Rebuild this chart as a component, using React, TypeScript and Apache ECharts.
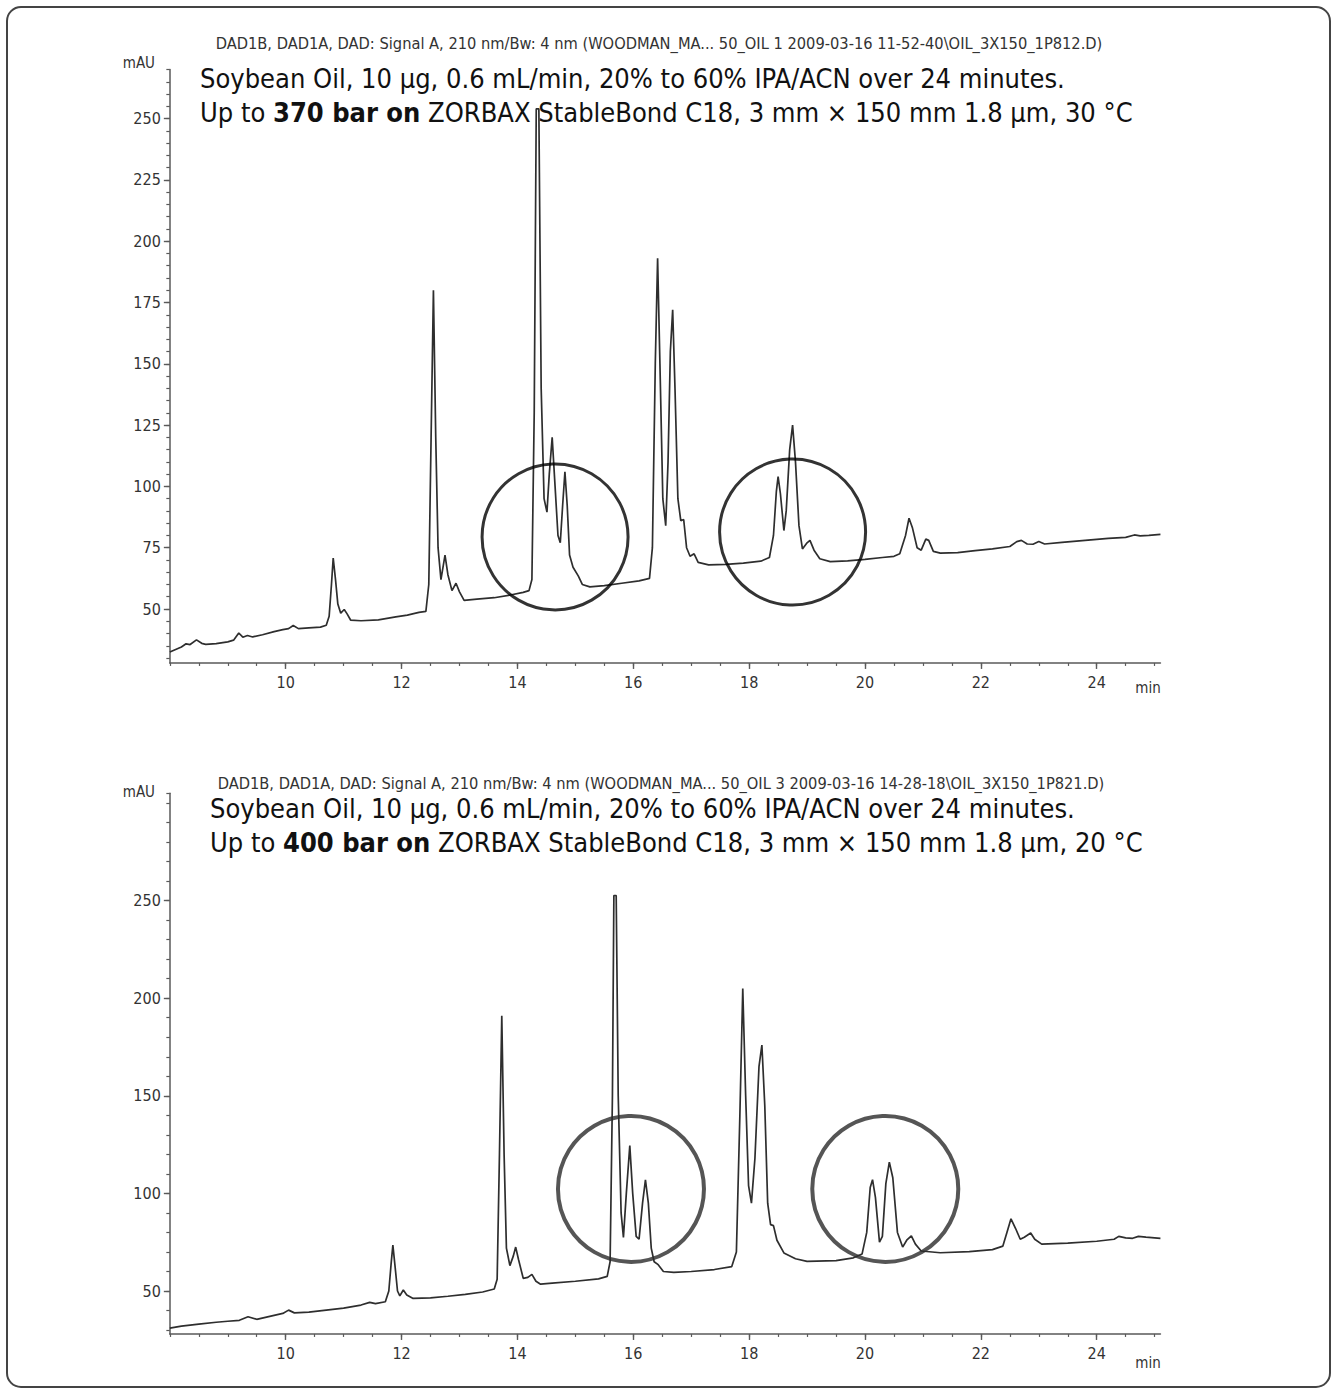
import React, { useEffect, useRef } from "react";
import * as echarts from "echarts";

// ---------- data ----------
const topHeader =
  "DAD1B, DAD1A, DAD: Signal A, 210 nm/Bw: 4 nm (WOODMAN_MA... 50_OIL 1 2009-03-16 11-52-40\\OIL_3X150_1P812.D)";
const bottomHeader =
  "DAD1B, DAD1A, DAD: Signal A, 210 nm/Bw: 4 nm (WOODMAN_MA... 50_OIL 3 2009-03-16 14-28-18\\OIL_3X150_1P821.D)";
const noteLine1 = "Soybean Oil, 10 µg, 0.6 mL/min, 20% to 60% IPA/ACN over 24 minutes.";
const topNoteBold = "370 bar on";
const topNoteRest = " ZORBAX StableBond C18, 3 mm × 150 mm 1.8 µm, 30 °C";
const bottomNoteBold = "400 bar on";
const bottomNoteRest = " ZORBAX StableBond C18, 3 mm × 150 mm 1.8 µm, 20 °C";
const yUnit = "mAU";
const xUnit = "min";

// chromatogram 1 (370 bar, 30 °C): [time min, mAU]
const topTrace: number[][] = [
  [8.0, 32.5], [8.1, 33.5], [8.2, 34.5], [8.28, 35.8], [8.35, 35.5], [8.46, 37.4], [8.55, 36], [8.62, 35.6],
  [8.8, 35.9], [9.0, 36.6], [9.1, 37.3], [9.19, 40.2], [9.26, 38.5], [9.34, 39.2], [9.43, 38.6], [9.6, 39.5],
  [9.8, 40.8], [9.95, 41.6], [10.05, 42], [10.13, 43.3], [10.22, 42.0], [10.4, 42.3], [10.6, 42.6], [10.7, 43.4],
  [10.75, 47], [10.79, 60], [10.82, 70.8], [10.86, 62], [10.9, 52], [10.95, 48.3], [11.01, 49.8], [11.06, 48],
  [11.12, 45.5], [11.3, 45.2], [11.6, 45.6], [11.9, 46.8], [12.1, 47.5], [12.3, 48.6], [12.42, 49], [12.47, 60],
  [12.51, 120], [12.55, 180], [12.59, 120], [12.63, 75], [12.68, 62], [12.75, 72], [12.8, 64], [12.87, 57.5],
  [12.94, 60.5], [13.0, 57], [13.08, 53.5], [13.3, 54], [13.6, 54.6], [13.9, 55.8], [14.1, 56.8], [14.2, 57.5],
  [14.25, 62], [14.29, 130], [14.325, 254], [14.37, 254], [14.41, 140], [14.46, 95], [14.51, 89.5], [14.55, 105],
  [14.6, 120], [14.65, 100], [14.7, 80], [14.74, 77], [14.78, 92], [14.82, 106], [14.86, 92], [14.9, 72],
  [14.96, 67], [15.05, 63.5], [15.12, 60], [15.25, 59], [15.5, 59.5], [15.8, 60.5], [16.1, 61.5], [16.28, 62.5],
  [16.33, 75], [16.38, 150], [16.42, 193], [16.46, 150], [16.51, 95], [16.56, 84], [16.6, 110], [16.64, 155],
  [16.68, 172], [16.72, 140], [16.77, 95], [16.82, 86], [16.87, 86.5], [16.92, 75], [16.98, 71.5], [17.05, 72.5],
  [17.12, 69], [17.3, 68], [17.6, 68.2], [17.9, 68.7], [18.2, 69.5], [18.35, 71], [18.42, 80], [18.47, 98],
  [18.5, 104], [18.54, 97], [18.6, 82], [18.64, 90], [18.7, 115], [18.75, 125], [18.8, 110], [18.86, 84],
  [18.92, 74.5], [19.0, 77], [19.05, 78], [19.12, 74], [19.22, 70.5], [19.4, 69.3], [19.7, 69.6], [20.0, 70.2],
  [20.3, 71], [20.5, 71.5], [20.6, 72.5], [20.7, 80], [20.76, 87], [20.82, 83], [20.9, 75], [20.97, 74],
  [21.05, 78.5], [21.1, 78], [21.18, 73.5], [21.3, 72.8], [21.6, 73], [21.9, 73.8], [22.2, 74.5], [22.5, 75.5],
  [22.62, 77.5], [22.7, 78], [22.8, 76.5], [22.9, 76.4], [23.0, 77.5], [23.1, 76.5], [23.4, 77.2], [23.8, 78],
  [24.2, 78.8], [24.5, 79.2], [24.65, 80.2], [24.75, 79.8], [24.9, 80], [25.1, 80.4],
];

// chromatogram 2 (400 bar, 20 °C): [time min, mAU]
const bottomTrace: number[][] = [
  [8.0, 31], [8.2, 32], [8.5, 33], [8.8, 34], [9.0, 34.5], [9.2, 35], [9.35, 36.8], [9.5, 35.5], [9.8, 37.5],
  [9.95, 38.5], [10.05, 40.2], [10.15, 38.8], [10.4, 39.2], [10.7, 40.2], [11.0, 41.2], [11.3, 42.8], [11.45, 44.2],
  [11.55, 43.5], [11.72, 44.5], [11.78, 50], [11.82, 64], [11.85, 73.5], [11.89, 62], [11.93, 50], [11.97, 47.5],
  [12.03, 50.5], [12.09, 48], [12.2, 46.2], [12.5, 46.5], [12.8, 47.3], [13.1, 48.3], [13.4, 49.5], [13.6, 51],
  [13.65, 56], [13.69, 120], [13.73, 191], [13.77, 120], [13.81, 72], [13.87, 63], [13.93, 68], [13.97, 72.5],
  [14.02, 66], [14.1, 56.5], [14.18, 57], [14.25, 58.5], [14.32, 55], [14.4, 53.5], [14.6, 54], [15.0, 55],
  [15.4, 56.2], [15.55, 57.5], [15.6, 65], [15.64, 150], [15.665, 252.6], [15.705, 252.6], [15.74, 150],
  [15.79, 90], [15.83, 77.5], [15.88, 100], [15.94, 124.5], [15.99, 100], [16.05, 78], [16.1, 76.5], [16.16, 95],
  [16.21, 107], [16.26, 95], [16.31, 72], [16.36, 65], [16.43, 63.5], [16.52, 60], [16.7, 59.5], [17.0, 60],
  [17.4, 61], [17.7, 62.5], [17.78, 70], [17.84, 140], [17.89, 205], [17.94, 150], [17.99, 104], [18.04, 95],
  [18.1, 118], [18.17, 165], [18.22, 176], [18.27, 145], [18.32, 95], [18.37, 84], [18.42, 83.5], [18.48, 76],
  [18.6, 69.5], [18.8, 66.5], [19.0, 65.2], [19.5, 65.6], [19.8, 67], [19.95, 69], [20.03, 80], [20.09, 103],
  [20.13, 107], [20.18, 98], [20.25, 75], [20.3, 78], [20.36, 105], [20.42, 116], [20.48, 108], [20.56, 80],
  [20.65, 72.5], [20.72, 76], [20.8, 78.2], [20.87, 74], [20.97, 70.5], [21.3, 69.6], [21.8, 70.2], [22.2, 71.2],
  [22.38, 73], [22.45, 80], [22.52, 87], [22.6, 82], [22.68, 76.5], [22.75, 77.5], [22.86, 79.7], [22.93, 76.5],
  [23.05, 74], [23.5, 74.5], [24.0, 75.5], [24.3, 76.5], [24.38, 78], [24.5, 77.2], [24.62, 77], [24.72, 78],
  [24.85, 77.6], [25.1, 77],
];

// highlighted regions (circle centres in [min, mAU])
const topCircles: number[][] = [[14.65, 79.4], [18.75, 81.4]];
const bottomCircles: number[][] = [[15.96, 102.3], [20.35, 102.3]];

// axis settings
const xMin = 8;
const xMax = 25.1;
const xMinorEnd = 25;
const xMajorStart = 10;
const xMajorEnd = 24;
const topY = { dataMin: 28, max: 270, minorMin: 30, minorStep: 5, majorMin: 50, majorMax: 250, majorStep: 25 };
const bottomY = { dataMin: 28, max: 305, minorMin: 30, minorStep: 10, majorMin: 50, majorMax: 250, majorStep: 50 };

// ---------- layout ----------
const NARROW = '"Liberation Sans Narrow", "Arial Narrow", "DejaVu Sans Condensed", sans-serif';
const AXIS_COLOR = "#5a5a5a";
const LABEL_COLOR = "#333";

type Panel = {
  x10: number; // pixel of t=10
  pxPerMin: number;
  y50: number; // pixel of 50 mAU
  pxPerUnit: number;
};
const topPanel: Panel = { x10: 285.7, pxPerMin: 57.93, y50: 609, pxPerUnit: 2.452 };
const bottomPanel: Panel = { x10: 285.7, pxPerMin: 57.93, y50: 1291, pxPerUnit: 1.952 };

function buildPanel(p: Panel, yc: any, trace: number[][], circles: number[][], circleColor: string, circleWidth: number, gi: number) {
  const X = (t: number) => p.x10 + (t - 10) * p.pxPerMin;
  const Y = (v: number) => p.y50 - (v - 50) * p.pxPerUnit;
  const rect = (t0: number, t1: number, v0: number, v1: number) => ({
    left: X(t0), width: X(t1) - X(t0), top: Y(v1), height: Y(v0) - Y(v1),
  });
  const grids = [
    rect(xMin, xMax, yc.dataMin, yc.max),
    rect(xMin, xMinorEnd, yc.minorMin, yc.max),
    rect(xMajorStart, xMajorEnd, yc.majorMin, yc.majorMax),
  ];
  const hidden = { show: false };
  const xAxes = [
    {
      gridIndex: gi, type: "value", min: xMin, max: xMax,
      axisLine: { show: true, lineStyle: { color: AXIS_COLOR, width: 1.5 } },
      axisTick: hidden, axisLabel: hidden, splitLine: hidden,
    },
    {
      gridIndex: gi + 1, type: "value", min: xMin, max: xMinorEnd, interval: 0.5,
      offset: Y(yc.dataMin) - Y(yc.minorMin),
      axisLine: hidden, axisTick: { show: true, length: 3, lineStyle: { color: AXIS_COLOR, width: 1.2 } },
      axisLabel: hidden, splitLine: hidden,
    },
    {
      gridIndex: gi + 2, type: "value", min: xMajorStart, max: xMajorEnd, interval: 2,
      offset: Y(yc.dataMin) - Y(yc.majorMin),
      axisLine: hidden, axisTick: { show: true, length: 6, lineStyle: { color: AXIS_COLOR, width: 1.4 } },
      axisLabel: { show: true, color: LABEL_COLOR, fontSize: 16, fontFamily: NARROW, margin: 12 },
      splitLine: hidden,
    },
  ];
  const yAxes = [
    {
      gridIndex: gi, type: "value", min: yc.dataMin, max: yc.max,
      axisLine: { show: true, lineStyle: { color: AXIS_COLOR, width: 1.5 } },
      axisTick: hidden, axisLabel: hidden, splitLine: hidden,
    },
    {
      gridIndex: gi + 1, type: "value", min: yc.minorMin, max: yc.max, interval: yc.minorStep,
      axisLine: hidden, axisTick: { show: true, length: 3.5, lineStyle: { color: AXIS_COLOR, width: 1.2 } },
      axisLabel: hidden, splitLine: hidden,
    },
    {
      gridIndex: gi + 2, type: "value", min: yc.majorMin, max: yc.majorMax, interval: yc.majorStep,
      offset: X(xMajorStart) - X(xMin),
      axisLine: hidden, axisTick: { show: true, length: 6, lineStyle: { color: AXIS_COLOR, width: 1.4 } },
      axisLabel: { show: true, color: LABEL_COLOR, fontSize: 16, fontFamily: NARROW, margin: 9 },
      splitLine: hidden,
    },
  ];
  const series = [
    {
      type: "line", xAxisIndex: gi, yAxisIndex: gi, data: trace, showSymbol: false, symbol: "none",
      lineStyle: { color: "#2e2e2e", width: 1.7 }, clip: true, silent: true, z: 2,
    },
    {
      type: "scatter", xAxisIndex: gi, yAxisIndex: gi, data: circles, symbol: "circle", symbolSize: 146,
      itemStyle: { color: "rgba(0,0,0,0)", borderColor: circleColor, borderWidth: circleWidth }, silent: true, z: 3,
    },
  ];
  return { grids, xAxes, yAxes, series };
}

export default function App() {
  const ref = useRef<HTMLDivElement>(null);
  useEffect(() => {
    if (!ref.current) return;
    const chart = echarts.init(ref.current, undefined, { renderer: "svg" });
    const a = buildPanel(topPanel, topY, topTrace, topCircles, "#000", 3, 0);
    const b = buildPanel(bottomPanel, bottomY, bottomTrace, bottomCircles, "#2a2a2a", 4, 3);

    const headerStyle = { fill: "#333", fontSize: 16.3, fontFamily: NARROW };
    const noteRich = {
      n: { fontSize: 27, fontFamily: NARROW, fill: "#111" },
      b: { fontSize: 27, fontFamily: NARROW, fontWeight: "bold", fill: "#111" },
    };
    const unitStyle = { fill: LABEL_COLOR, fontSize: 15, fontFamily: NARROW };

    chart.setOption({
      animation: false,
      backgroundColor: "#fff",
      grid: [...a.grids, ...b.grids],
      xAxis: [...a.xAxes, ...b.xAxes],
      yAxis: [...a.yAxes, ...b.yAxes],
      series: [...a.series, ...b.series],
      graphic: [
        {
          type: "rect", shape: { x: 7, y: 7, width: 1323, height: 1380, r: 14 },
          style: { fill: "none", stroke: "#444", lineWidth: 2 }, silent: true, z: 0,
        },
        { type: "text", x: 659, y: 43, style: { ...headerStyle, text: topHeader, align: "center", verticalAlign: "middle" } },
        { type: "text", x: 661, y: 783, style: { ...headerStyle, text: bottomHeader, align: "center", verticalAlign: "middle" } },
        { type: "text", x: 155, y: 63, style: { ...unitStyle, text: yUnit, align: "right", verticalAlign: "middle" } },
        { type: "text", x: 155, y: 792, style: { ...unitStyle, text: yUnit, align: "right", verticalAlign: "middle" } },
        { type: "text", x: 1148, y: 688, style: { ...unitStyle, text: xUnit, align: "center", verticalAlign: "middle" } },
        { type: "text", x: 1148, y: 1363, style: { ...unitStyle, text: xUnit, align: "center", verticalAlign: "middle" } },
        {
          type: "text", x: 200, y: 61, z: 10,
          style: {
            text: `{n|${noteLine1}}\n{n|Up to }{b|${topNoteBold}}{n|${topNoteRest}}`,
            rich: noteRich, lineHeight: 34, fontSize: 27, fontFamily: NARROW, fill: "#111",
          },
        },
        {
          type: "text", x: 210, y: 791, z: 10,
          style: {
            text: `{n|${noteLine1}}\n{n|Up to }{b|${bottomNoteBold}}{n|${bottomNoteRest}}`,
            rich: noteRich, lineHeight: 34, fontSize: 27, fontFamily: NARROW, fill: "#111",
          },
        },
      ],
    });
    return () => chart.dispose();
  }, []);
  return (
    <div
      ref={ref}
      style={{ position: "absolute", left: 0, top: 0, width: 1338, height: 1395, background: "#fff" }}
    />
  );
}
